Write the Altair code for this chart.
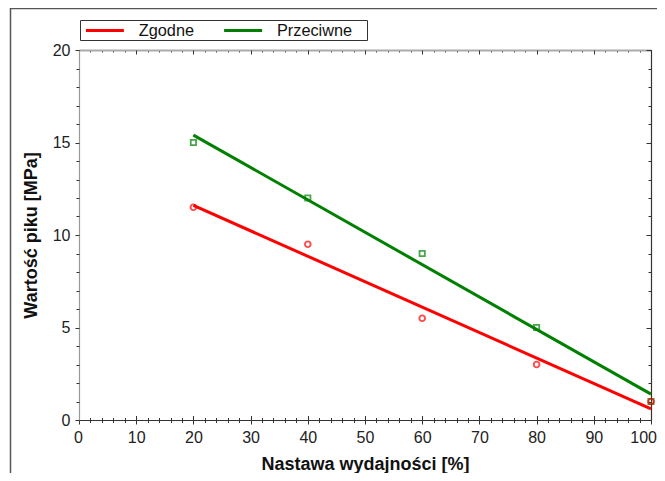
import altair as alt
import pandas as pd

# ---- data ----
series = ["Zgodne", "Przeciwne"]
colors = ["#ff0000", "#008000"]

x_zgodne = [20, 40, 60, 80, 100]
y_zgodne = [11.5, 9.5, 5.5, 3.0, 1.0]
x_przeciwne = [20, 40, 60, 80, 100]
y_przeciwne = [15.0, 12.0, 9.0, 5.0, 1.0]

x_major = [0, 10, 20, 30, 40, 50, 60, 70, 80, 90, 100]
x_minor = list(range(0, 101, 2))
y_major = [0, 5, 10, 15, 20]
y_minor = list(range(0, 21, 1))

x_title = "Nastawa wydajności [%]"
y_title = "Wartość piku [MPa]"

rows = []
for xv, yv in zip(x_przeciwne, y_przeciwne):
    rows.append({"x": xv, "y": yv, "series": "Przeciwne"})
for xv, yv in zip(x_zgodne, y_zgodne):
    rows.append({"x": xv, "y": yv, "series": "Zgodne"})
df = pd.DataFrame(rows)

W, H = 572, 370
FONT = "Liberation Sans"

xs = alt.Scale(domain=[0, 100], nice=False, zero=False)
ys = alt.Scale(domain=[0, 20], nice=False, zero=False)
cscale = alt.Scale(domain=series, range=colors)

base = alt.Chart(df)

legend = alt.Legend(
    title="\u00a0", titleOrient="right", titleFontSize=16, titlePadding=13.6,
    orient="none", legendX=1, legendY=-30, direction="horizontal",
    strokeColor="#333333", fillColor="white", padding=1,
    symbolType="M-2.5,0H2.5", symbolSize=231, symbolStrokeWidth=3,
    symbolOffset=14.4, labelOffset=24.4, columnPadding=22.2,
    labelFont=FONT, labelFontSize=16.3, labelColor="#111111",
)

lines = base.transform_regression("x", "y", groupby=["series"]).mark_line(strokeWidth=3).encode(
    x=alt.X("x:Q", scale=xs, axis=alt.Axis(
        orient="bottom", values=x_major, tickSize=4, tickColor="#333333",
        domainColor="#333333", domainWidth=1.2, grid=False,
        labelFlush=True, labelFlushOffset=5.5,
        labelFont=FONT, labelFontSize=16, labelColor="#222222", labelPadding=5,
        title=x_title, titleFont=FONT, titleFontSize=18, titleFontWeight="bold",
        titleColor="#111111", titlePadding=10)),
    y=alt.Y("y:Q", scale=ys, axis=alt.Axis(
        orient="left", values=y_major, tickSize=4, tickColor="#333333",
        domainColor="#999999", domainWidth=1.2, grid=False, labelFlush=False,
        labelFont=FONT, labelFontSize=16, labelColor="#222222", labelPadding=5,
        title=y_title, titleFont=FONT, titleFontSize=18, titleFontWeight="bold",
        titleColor="#111111", titlePadding=12)),
    color=alt.Color("series:N", scale=cscale, legend=legend),
)

points_green = base.transform_filter(alt.datum.series == "Przeciwne").mark_point(
    filled=False, shape="square", size=28, strokeWidth=1.8).encode(
    x=alt.X("x:Q", scale=xs, axis=alt.Axis(
        orient="bottom", values=x_minor, tickSize=2.5, tickColor="#333333",
        domain=False, labels=False, grid=False, title=None)),
    y=alt.Y("y:Q", scale=ys, axis=alt.Axis(
        orient="left", values=y_minor, tickSize=3, tickColor="#333333",
        domain=False, labels=False, grid=False, title=None)),
    color=alt.Color("series:N", scale=cscale, legend=None),
)

points_red = base.transform_filter(alt.datum.series == "Zgodne").mark_point(
    filled=False, shape="circle", size=32, strokeWidth=1.9).encode(
    x=alt.X("x:Q", scale=xs, axis=None),
    y=alt.Y("y:Q", scale=ys, axis=None),
    color=alt.Color("series:N", scale=cscale, legend=None),
)

def ghost(xaxis, yaxis):
    enc = {"x": alt.X("x:Q", scale=xs, axis=xaxis)}
    enc["y"] = alt.Y("y:Q", scale=ys, axis=yaxis)
    return base.mark_point(opacity=0).encode(**enc)

top_right_minor = ghost(
    alt.Axis(orient="bottom", offset=-H, values=x_minor, tickSize=2, tickColor="#333333",
             domain=True, domainColor="#aaaaaa", domainWidth=2, labels=False, grid=False, title=None),
    alt.Axis(orient="left", offset=-W, values=y_minor, tickSize=3, tickColor="#333333",
             domain=True, domainColor="#333333", domainWidth=1.2, labels=False, grid=False, title=None),
)
top_right_major = ghost(
    alt.Axis(orient="bottom", offset=-H, values=x_major, tickSize=4, tickColor="#333333",
             domain=False, labels=False, grid=False, title=None),
    alt.Axis(orient="left", offset=-W, values=y_major, tickSize=5, tickColor="#333333",
             domain=False, labels=False, grid=False, title=None),
)
bottom_in_minor = ghost(
    alt.Axis(orient="top", offset=-H, values=x_minor, tickSize=2.5, tickColor="#333333",
             domain=False, labels=False, grid=False, title=None),
    None,
)
bottom_in_major = ghost(
    alt.Axis(orient="top", offset=-H, values=x_major, tickSize=4.5, tickColor="#333333",
             domain=False, labels=False, grid=False, title=None),
    None,
)

frame_df = pd.DataFrame({"k": [0]})
frame_top = alt.Chart(frame_df).mark_rule(color="#555555", strokeWidth=1.5).encode(
    x=alt.value(-69), x2=alt.value(W + 30), y=alt.value(-41.5))
frame_left = alt.Chart(frame_df).mark_rule(color="#555555", strokeWidth=1.5).encode(
    x=alt.value(-68.5), y=alt.value(-42), y2=alt.value(H + 70))

chart = alt.layer(
    top_right_minor, top_right_major, bottom_in_minor, bottom_in_major,
    lines, points_green, points_red, frame_top, frame_left,
).resolve_axis(x="independent", y="independent").properties(
    width=W, height=H,
    padding={"left": 71, "top": 42, "right": 6, "bottom": 53},
    autosize=alt.AutoSizeParams(type="none"),
    background="white",
).configure_view(stroke=None)

chart.save("out.html", embed_options={"renderer": "svg", "actions": False})
